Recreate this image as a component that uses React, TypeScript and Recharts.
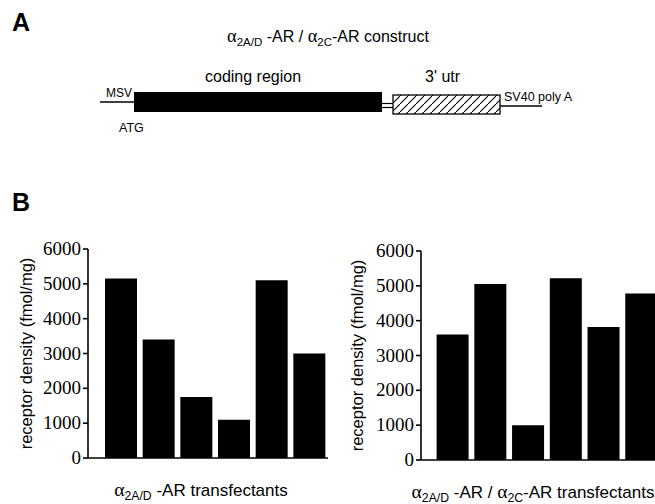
import React from "react"
import { Bar, BarChart, Label, XAxis, YAxis } from "recharts"

// receptor density per transfectant clone (fmol/mg)
const cloneIds = ["1", "2", "3", "4", "5", "6"]
const alpha2adValues = [5150, 3400, 1750, 1100, 5100, 3000]
const chimeraValues = [3600, 5050, 1000, 5220, 3820, 4780]
const yTicks = [0, 1000, 2000, 3000, 4000, 5000, 6000]

const SANS = "'Liberation Sans', Arial, Helvetica, sans-serif"
const SERIF = "'Liberation Serif', 'Times New Roman', serif"

const leftData = cloneIds.map((id, i) => ({ id, value: alpha2adValues[i] }))
const rightData = cloneIds.map((id, i) => ({ id, value: chimeraValues[i] }))

type Part = { t: string; sub?: boolean; greek?: boolean }

const leftLabel: Part[] = [
  { t: "α", greek: true },
  { t: "2A/D", sub: true },
  { t: " -AR transfectants" },
]
const rightLabel: Part[] = [
  { t: "α", greek: true },
  { t: "2A/D", sub: true },
  { t: " -AR / " },
  { t: "α", greek: true },
  { t: "2C", sub: true },
  { t: "-AR transfectants" },
]
const titleLabel: Part[] = [
  { t: "α", greek: true },
  { t: "2A/D", sub: true },
  { t: " -AR / " },
  { t: "α", greek: true },
  { t: "2C", sub: true },
  { t: "-AR construct" },
]

function richSpans(parts: Part[], size: number) {
  let shifted = false
  return parts.map((p, i) => {
    let dy = 0
    if (p.sub && !shifted) {
      dy = size * 0.22
      shifted = true
    } else if (!p.sub && shifted) {
      dy = -size * 0.22
      shifted = false
    }
    return (
      <tspan
        key={i}
        dy={dy}
        fontSize={p.sub ? size * 0.72 : p.greek ? size * 1.15 : size}
        fontFamily={p.greek ? SERIF : SANS}
      >
        {p.t}
      </tspan>
    )
  })
}

function xLabel(parts: Part[], dx: number, dy: number) {
  return (props: any) => {
    const vb = props.viewBox || { x: 0, y: 0, width: 0 }
    return (
      <text x={vb.x + vb.width / 2 + dx} y={vb.y + dy} textAnchor="middle" fill="#000" style={{ whiteSpace: "pre" }}>
        {richSpans(parts, 17)}
      </text>
    )
  }
}

function yLabel(cx: number) {
  return (props: any) => {
    const vb = props.viewBox || { x: 0, y: 0, height: 0 }
    const cy = vb.y + vb.height / 2
    return (
      <text
        x={cx}
        y={cy}
        transform={`rotate(-90, ${cx}, ${cy})`}
        textAnchor="middle"
        dominantBaseline="central"
        fontFamily={SANS}
        fontSize={16.5}
        fill="#000"
      >
        receptor density (fmol/mg)
      </text>
    )
  }
}

function SerifTick(props: any) {
  const { x, y, payload } = props
  return (
    <text x={x} y={y} dy={6} textAnchor="end" fontFamily={SERIF} fontSize={19} fill="#000">
      {payload.value}
    </text>
  )
}

function DensityChart({
  data,
  width,
  height,
  top,
  right,
  axisWidth,
  padLeft,
  label,
  labelDx,
  yLabelX,
}: {
  data: { id: string; value: number }[]
  width: number
  height: number
  top: number
  right: number
  axisWidth: number
  padLeft: number
  label: Part[]
  labelDx: number
  yLabelX: number
}) {
  return (
    <BarChart width={width} height={height} data={data} margin={{ top, right, left: 0, bottom: 0 }}>
      <XAxis
        dataKey="id"
        tick={false}
        tickLine={false}
        height={height - top - 209}
        padding={{ left: padLeft, right: 0 }}
        axisLine={{ stroke: "#000", strokeWidth: 1.6 }}
      >
        <Label content={xLabel(label, labelDx, 38)} />
      </XAxis>
      <YAxis
        width={axisWidth}
        domain={[0, 6000]}
        ticks={yTicks}
        interval={0}
        tickSize={5}
        tickMargin={2}
        axisLine={{ stroke: "#000", strokeWidth: 1.6 }}
        tickLine={{ stroke: "#000", strokeWidth: 1.6 }}
        tick={<SerifTick />}
      >
        <Label content={yLabel(yLabelX)} />
      </YAxis>
      <Bar dataKey="value" fill="#000" barSize={32} isAnimationActive={false} />
    </BarChart>
  )
}

export default function App() {
  return (
    <div
      style={{
        position: "fixed",
        left: 0,
        top: 0,
        width: 655,
        height: 504,
        overflow: "hidden",
        background: "#fff",
      }}
    >
      {/* panel A: construct diagram */}
      <svg width={655} height={230} style={{ position: "absolute", left: 0, top: 0 }}>
        <defs>
          <pattern id="hatch" width={8} height={8} patternUnits="userSpaceOnUse">
            <line x1={-2} y1={10} x2={10} y2={-2} stroke="#000" strokeWidth={1.1} />
          </pattern>
        </defs>
        <text x={12} y={31} fontFamily={SANS} fontWeight="bold" fontSize={25}>
          A
        </text>
        <text x={328} y={42} textAnchor="middle" style={{ whiteSpace: "pre" }}>
          {richSpans(titleLabel, 16)}
        </text>
        <text x={205} y={82} fontFamily={SANS} fontSize={16}>
          coding region
        </text>
        <text x={425} y={82} fontFamily={SANS} fontSize={16}>
          3' utr
        </text>
        <text x={106} y={97} fontFamily={SANS} fontSize={12}>
          MSV
        </text>
        <text x={119} y={132} fontFamily={SANS} fontSize={12.5}>
          ATG
        </text>
        <text x={504} y={101} fontFamily={SANS} fontSize={12.5}>
          SV40 poly A
        </text>
        <line x1={100} y1={102} x2={134} y2={102} stroke="#000" strokeWidth={1.5} />
        <rect x={134} y={92} width={248} height={20} fill="#000" />
        <line x1={382} y1={103.5} x2={393} y2={103.5} stroke="#000" strokeWidth={1.2} />
        <line x1={382} y1={107.5} x2={393} y2={107.5} stroke="#000" strokeWidth={1.2} />
        <rect x={393} y={95} width={107} height={19} fill="url(#hatch)" stroke="#000" strokeWidth={1.3} />
        <line x1={500} y1={106} x2={542} y2={106} stroke="#000" strokeWidth={1.5} />
        <text x={12} y={211} fontFamily={SANS} fontWeight="bold" fontSize={25}>
          B
        </text>
      </svg>

      {/* panel B: receptor density bars */}
      <div style={{ position: "absolute", left: 0, top: 229 }}>
        <DensityChart
          data={leftData}
          width={335}
          height={275}
          top={20}
          right={7}
          axisWidth={88}
          padLeft={14}
          label={leftLabel}
          labelDx={-7}
          yLabelX={26}
        />
      </div>
      <div style={{ position: "absolute", left: 330, top: 230 }}>
        <DensityChart
          data={rightData}
          width={340}
          height={274}
          top={21}
          right={10}
          axisWidth={91}
          padLeft={12.6}
          label={rightLabel}
          labelDx={-7.5}
          yLabelX={27}
        />
      </div>
    </div>
  )
}
